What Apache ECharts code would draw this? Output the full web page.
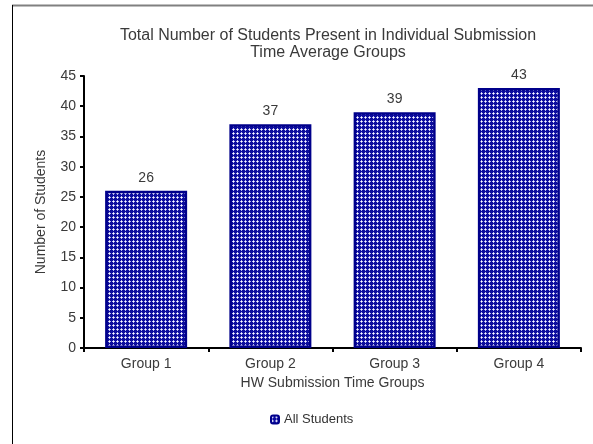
<!DOCTYPE html>
<html>
<head>
<meta charset="utf-8">
<script src="https://cdn.jsdelivr.net/npm/echarts@6/dist/echarts.min.js"></script>
<style>
  html, body { margin: 0; padding: 0; background: #fff; }
  #chart { width: 593px; height: 444px; }
</style>
</head>
<body>
<div id="chart"></div>
<script>
var categories = ["Group 1", "Group 2", "Group 3", "Group 4"];
var allStudents = [26, 37, 39, 43];
var yTicks = [0, 5, 10, 15, 20, 25, 30, 35, 40, 45];

// blue crosshatch fill like the original
function makePattern() {
  var c = document.createElement("canvas");
  c.width = 4;
  c.height = 4;
  var ctx = c.getContext("2d");
  ctx.fillStyle = "#0d0d9e";
  ctx.fillRect(0, 0, 4, 4);
  ctx.fillStyle = "#ffffff";
  ctx.fillRect(1, 1, 1, 1);
  ctx.fillStyle = "#b8b8ee";
  ctx.fillRect(0, 1, 1, 1);
  ctx.fillRect(1, 0, 1, 1);
  ctx.fillRect(2, 1, 1, 1);
  ctx.fillRect(1, 2, 1, 1);
  return c;
}

var chart = echarts.init(document.getElementById("chart"));
var font = "'Liberation Sans', Arial, sans-serif";

chart.setOption({
  animation: false,
  textStyle: { fontFamily: font },
  title: {
    text: "Total Number of Students Present in Individual Submission\nTime Average Groups",
    left: 323,
    textAlign: "center",
    top: 22,
    textStyle: { fontSize: 16, fontWeight: "normal", color: "#3a3a3a", lineHeight: 17 }
  },
  legend: {
    data: ["All Students"],
    left: 265,
    top: 408,
    itemWidth: 8,
    itemHeight: 8,
    itemGap: 2,
    textStyle: { fontSize: 13, color: "#333" }
  },
  graphic: [
    { type: "line", shape: { x1: 12, y1: 5.5, x2: 593, y2: 5.5 }, style: { stroke: "#808080", lineWidth: 2 } },
    { type: "line", shape: { x1: 12.5, y1: 5, x2: 12.5, y2: 444 }, style: { stroke: "#000", lineWidth: 1 } }
  ],
  grid: { left: 84, right: 12, top: 76, bottom: 96 },
  xAxis: {
    type: "category",
    data: categories,
    name: "HW Submission Time Groups",
    nameLocation: "middle",
    nameGap: 27,
    nameTextStyle: { fontSize: 14, color: "#3a3a3a" },
    axisLine: { lineStyle: { color: "#000", width: 2 } },
    axisTick: { show: true, length: 4, lineStyle: { color: "#000", width: 2 } },
    axisLabel: { fontSize: 14, color: "#3a3a3a", margin: 9 }
  },
  yAxis: {
    type: "value",
    min: 0,
    max: 45,
    interval: 5,
    name: "Number of Students",
    nameLocation: "middle",
    nameGap: 36,
    nameTextStyle: { fontSize: 14, color: "#3a3a3a" },
    axisLine: { show: true, lineStyle: { color: "#000", width: 2 } },
    axisTick: { show: true, length: 4, lineStyle: { color: "#000", width: 2 } },
    splitLine: { show: false },
    axisLabel: {
      fontSize: 14,
      color: "#3a3a3a",
      margin: 8,
      formatter: function (v) { return yTicks.indexOf(v) >= 0 ? String(v) : ""; }
    }
  },
  series: [
    {
      name: "All Students",
      type: "bar",
      data: allStudents,
      barWidth: "66%",
      itemStyle: {
        color: { image: makePattern(), repeat: "repeat" },
        borderColor: "#00008b",
        borderWidth: 2.5
      },
      label: {
        show: true,
        position: "top",
        distance: 6,
        fontSize: 14,
        color: "#3a3a3a"
      }
    }
  ]
});
</script>
</body>
</html>
